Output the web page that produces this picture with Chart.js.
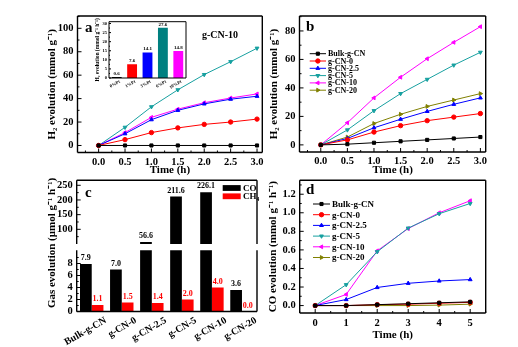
<!DOCTYPE html>
<html>
<head>
<meta charset="utf-8">
<script src="https://cdn.jsdelivr.net/npm/chart.js@4.4.0/dist/chart.umd.min.js"></script>
<style>
  html, body { margin: 0; padding: 0; background: #fff; }
  #wrap { position: relative; width: 518px; height: 347px; overflow: hidden; }
  canvas { position: absolute; }
</style>
</head>
<body>
<div id="wrap">
  <canvas id="ca"></canvas>
  <canvas id="cb"></canvas>
  <canvas id="cinset"></canvas>
  <canvas id="ccup"></canvas>
  <canvas id="cclow"></canvas>
  <canvas id="cd"></canvas>
</div>
<script>
// ---- data ----
const timeH2 = [0, 0.5, 1, 1.5, 2, 2.5, 3];
const timeCO = [0, 1, 2, 3, 4, 5];
const sampleNames = ['Bulk-g-CN', 'g-CN-0', 'g-CN-2.5', 'g-CN-5', 'g-CN-10', 'g-CN-20'];

// (a) Pt loading on g-CN-10
const ptLabels = ['0%Pt', '1%Pt', '3%Pt', '6%Pt', '10%Pt'];
const ptRates = [0.6, 7.6, 14.1, 27.6, 14.8];
const ptH2_0 = [0, 0, 0, 0, 0, 0, 0];
const ptH2_1 = [0, 5, 11, 15, 18, 20, 22.5];
const ptH2_3 = [0, 10, 22, 30, 35.5, 39.5, 42];
const ptH2_6 = [0, 15.5, 33, 47.5, 60.5, 71.5, 83];
const ptH2_10 = [0, 11, 24, 31, 36.5, 40.5, 44];

// (b) H2 evolution
const h2Bulk = [0, 0.5, 1.5, 2.5, 3.5, 4.5, 5.5];
const h2CN0 = [0, 3.5, 9, 13.5, 17, 19.5, 22];
const h2CN25 = [0, 4.5, 12, 18, 23.5, 28.5, 33];
const h2CN5 = [0, 10.5, 24, 36, 46, 56, 65];
const h2CN10 = [0, 15.5, 33, 47.5, 60.5, 72, 83];
const h2CN20 = [0, 5.5, 15, 21.5, 27, 31.5, 36];

// (c) gas evolution rates
const gasCO = [7.9, 7.0, 56.6, 211.6, 226.1, 3.6];
const gasCH4 = [1.1, 1.5, 1.4, 2.0, 4.0, 0.0];

// (d) CO evolution
const coBulk = [0, 0, 0.01, 0.02, 0.03, 0.04];
const coCN0 = [0, 0, 0.01, 0.015, 0.025, 0.035];
const coCN25 = [0, 0.065, 0.195, 0.24, 0.265, 0.28];
const coCN5 = [0, 0.225, 0.58, 0.835, 0.99, 1.1];
const coCN10 = [0, 0.12, 0.59, 0.83, 1.0, 1.13];
const coCN20 = [0, 0, 0, 0, 0.005, 0.015];

// tick values
const ticksTime3 = [0, 0.5, 1, 1.5, 2, 2.5, 3];
const ticksTime5 = [0, 1, 2, 3, 4, 5];
const ticksA = [0, 20, 40, 60, 80, 100];
const ticksB = [0, 20, 40, 60, 80];
const ticksCup = [100, 150, 200, 250];
const ticksClow = [0, 2, 4, 6, 8];
const ticksInset = [0, 5, 10, 15, 20, 25, 30];
const ticksD = [0, 0.2, 0.4, 0.6, 0.8, 1.0, 1.2];

// ---- styling ----
const F = "'Liberation Serif', 'Times New Roman', serif";
Chart.defaults.font.family = F;
Chart.defaults.font.weight = 'bold';
Chart.defaults.color = '#000';
Chart.defaults.animation = false;
Chart.defaults.responsive = false;
Chart.defaults.maintainAspectRatio = false;
Chart.defaults.plugins.legend.display = false;
Chart.defaults.plugins.tooltip.enabled = false;

const styles = [
  {c: '#000000', ps: 'rect', rot: 0},
  {c: '#ff0000', ps: 'circle', rot: 0},
  {c: '#0000ff', ps: 'triangle', rot: 0},
  {c: '#17a0a0', ps: 'triangle', rot: 180},
  {c: '#ff00ff', ps: 'triangle', rot: -90},
  {c: '#808000', ps: 'triangle', rot: 90}
];

function place(id, left, top, w, h) {
  const c = document.getElementById(id);
  c.width = w; c.height = h;
  c.style.left = left + 'px'; c.style.top = top + 'px';
  c.style.width = w + 'px'; c.style.height = h + 'px';
  return c;
}

function lineSet(label, xs, ys, st) {
  return {
    label: label,
    data: xs.map((x, i) => ({x: x, y: ys[i]})),
    borderColor: st.c, backgroundColor: st.c,
    borderWidth: 1, pointStyle: st.ps, pointRotation: st.rot,
    pointRadius: 2.2, pointBorderWidth: 1, tension: 0
  };
}

function linAxis(horiz, min, max, ticks, size, fmt, tickFont, tickPad, title) {
  return {
    type: 'linear', min: min, max: max,
    grid: {display: false, drawTicks: false},
    border: {display: false},
    afterBuildTicks: s => { s.ticks = ticks.map(v => ({value: v})); },
    afterFit: s => { if (horiz) s.height = size; else s.width = size; },
    ticks: {autoSkip: false, maxRotation: 0, padding: tickPad, font: {size: tickFont}, callback: fmt},
    title: title ? {
      display: true, text: title.text, font: {size: title.size || 11, weight: 'bold'},
      padding: horiz ? {top: 0, bottom: title.pad} : {top: title.pad, bottom: 0}
    } : {display: false}
  };
}

// box + inward ticks
const frame = {
  id: 'frame',
  afterDraw(chart, args, o) {
    const {ctx, chartArea: a, scales} = chart;
    const sides = o.sides || 'ltrb';
    const major = o.major || 4, minor = o.minor || 2;
    ctx.save();
    ctx.strokeStyle = '#000';
    ctx.lineWidth = o.lw || 1.4;
    ctx.beginPath();
    if (sides.includes('l')) { ctx.moveTo(a.left, a.top); ctx.lineTo(a.left, a.bottom); }
    if (sides.includes('r')) { ctx.moveTo(a.right, a.top); ctx.lineTo(a.right, a.bottom); }
    if (sides.includes('t')) { ctx.moveTo(a.left, a.top); ctx.lineTo(a.right, a.top); }
    if (sides.includes('b')) { ctx.moveTo(a.left, a.bottom); ctx.lineTo(a.right, a.bottom); }
    ctx.stroke();
    ctx.lineWidth = 1;
    ['x', 'y'].forEach(id => {
      const s = scales[id];
      if (!s || s.type !== 'linear' || !s.options.display) return;
      const vals = s.ticks.map(t => t.value);
      const mids = [];
      for (let i = 0; i < vals.length - 1; i++) mids.push((vals[i] + vals[i + 1]) / 2);
      if (vals.length > 1) {
        const st = vals[1] - vals[0];
        mids.push(vals[0] - st / 2, vals[vals.length - 1] + st / 2);
      }
      const mark = (v, len) => {
        if (v < s.min || v > s.max) return;
        const p = s.getPixelForValue(v);
        if (id === 'x') { ctx.moveTo(p, a.bottom); ctx.lineTo(p, a.bottom - len); }
        else { ctx.moveTo(a.left, p); ctx.lineTo(a.left + len, p); }
      };
      ctx.beginPath();
      vals.forEach(v => mark(v, major));
      mids.forEach(v => mark(v, minor));
      ctx.stroke();
    });
    ctx.restore();
  }
};

// free text (panel letters, rotated titles)
const notes = {
  id: 'notes',
  afterDraw(chart, args, o) {
    if (!o.items) return;
    const ctx = chart.ctx;
    o.items.forEach(n => {
      ctx.save();
      ctx.font = n.font;
      ctx.fillStyle = n.color || '#000';
      ctx.textAlign = n.align || 'left';
      ctx.textBaseline = 'middle';
      ctx.translate(n.x, n.y);
      if (n.rot) ctx.rotate(n.rot);
      ctx.fillText(n.text, 0, 0);
      ctx.restore();
    });
  }
};

// legend inside the plot
const inLegend = {
  id: 'inLegend',
  afterDraw(chart, args, o) {
    if (o.x0 === undefined) return;
    const ctx = chart.ctx;
    ctx.save();
    ctx.font = o.font;
    ctx.textBaseline = 'middle';
    chart.data.datasets.forEach((ds, i) => {
      const y = o.y0 + i * o.dy;
      ctx.fillStyle = ds.backgroundColor;
      ctx.strokeStyle = ds.borderColor || ds.backgroundColor;
      if (o.box) {
        ctx.fillRect(o.x0, y - o.bh / 2, o.x1 - o.x0, o.bh);
      } else {
        ctx.lineWidth = 1;
        ctx.beginPath(); ctx.moveTo(o.x0, y); ctx.lineTo(o.x1, y); ctx.stroke();
        Chart.helpers.drawPoint(ctx, {pointStyle: ds.pointStyle, rotation: ds.pointRotation, radius: 2.2, borderWidth: 1}, (o.x0 + o.x1) / 2, y);
      }
      ctx.fillStyle = '#000';
      ctx.fillText(ds.label, o.tx, y + 0.5);
    });
    ctx.restore();
  }
};

// numbers above bars
const barValues = {
  id: 'barValues',
  afterDatasetsDraw(chart, args, o) {
    if (!o.font) return;
    const ctx = chart.ctx;
    ctx.save();
    ctx.font = o.font;
    ctx.textAlign = 'center';
    ctx.textBaseline = 'bottom';
    chart.data.datasets.forEach((ds, di) => {
      const meta = chart.getDatasetMeta(di);
      meta.data.forEach((el, i) => {
        const v = ds.data[i];
        if (v < o.min || v > o.max) return;
        ctx.fillStyle = ds.valueColor || '#000';
        ctx.fillText(v.toFixed(1), el.x, el.y - o.gap);
      });
    });
    ctx.restore();
  }
};

const fmt1 = v => v.toFixed(1);
const fmt0 = v => String(v);

// ---- (a) ----
new Chart(place('ca', 0, 0, 268, 180), {
  type: 'line',
  data: {datasets: [
    lineSet('0%Pt', timeH2, ptH2_0, styles[0]),
    lineSet('1%Pt', timeH2, ptH2_1, styles[1]),
    lineSet('3%Pt', timeH2, ptH2_3, styles[2]),
    lineSet('10%Pt', timeH2, ptH2_10, styles[4]),
    lineSet('6%Pt', timeH2, ptH2_6, styles[3])
  ]},
  options: {
    layout: {padding: {left: 0, top: 16, right: 5.7, bottom: 0}},
    scales: {
      x: linAxis(true, -0.4, 3.1, ticksTime3, 27.5, fmt1, 10.5, 3, {text: 'Time (h)', pad: 3.4}),
      y: linAxis(false, -6, 110.5, ticksA, 77.5, fmt0, 10.5, 4, {text: 'H₂ evolution (mmol g⁻¹)', pad: 45.4})
    },
    plugins: {
      notes: {items: [
        {text: 'a', x: 85, y: 28, font: 'bold 15px ' + F},
        {text: 'g-CN-10', x: 202, y: 35, font: 'bold 10px ' + F}
      ]}
    }
  },
  plugins: [frame, notes]
});

// ---- (a) inset ----
new Chart(place('cinset', 86, 17, 104, 76), {
  type: 'bar',
  data: {
    labels: ptLabels,
    datasets: [{
      label: 'H2', data: ptRates,
      backgroundColor: [styles[0].c, styles[1].c, styles[2].c, '#008080', styles[4].c],
      barPercentage: 0.64, categoryPercentage: 1, clip: 0
    }]
  },
  options: {
    layout: {padding: {left: 0, top: 4, right: 4, bottom: 0}},
    scales: {
      x: {
        type: 'category', grid: {display: false, drawTicks: false}, border: {display: false},
        afterFit: s => { s.height = 15; },
        ticks: {font: {size: 4.5}, minRotation: 30, maxRotation: 30, padding: 1, labelOffset: 3, autoSkip: false}
      },
      y: linAxis(false, 0, 31, ticksInset, 23, fmt0, 4.5, 2, {text: 'H₂ evolution (mmol g⁻¹ h⁻¹)', pad: 8, size: 5.5})
    },
    plugins: {
      frame: {lw: 1, major: 2, minor: 1},
      barValues: {font: 'bold 5px ' + F, min: -1, max: 100, gap: 1}
    }
  },
  plugins: [frame, barValues]
});

// ---- (b) ----
new Chart(place('cb', 258, 0, 260, 180), {
  type: 'line',
  data: {datasets: [
    lineSet(sampleNames[0], timeH2, h2Bulk, styles[0]),
    lineSet(sampleNames[1], timeH2, h2CN0, styles[1]),
    lineSet(sampleNames[2], timeH2, h2CN25, styles[2]),
    lineSet(sampleNames[3], timeH2, h2CN5, styles[3]),
    lineSet(sampleNames[4], timeH2, h2CN10, styles[4]),
    lineSet(sampleNames[5], timeH2, h2CN20, styles[5])
  ]},
  options: {
    layout: {padding: {left: 0, top: 16, right: 32.3, bottom: 0}},
    scales: {
      x: linAxis(true, -0.4, 3.1, ticksTime3, 28, fmt1, 10.5, 3, {text: 'Time (h)', pad: 3.4}),
      y: linAxis(false, -5, 90.5, ticksB, 41.5, fmt0, 10.5, 4, {text: 'H₂ evolution (mmol g⁻¹)', pad: 9.9})
    },
    plugins: {
      inLegend: {x0: 51.7, x1: 68, tx: 70, y0: 53.7, dy: 7.3, font: 'bold 8px ' + F},
      notes: {items: [{text: 'b', x: 48, y: 27, font: 'bold 15px ' + F}]}
    }
  },
  plugins: [frame, inLegend, notes]
});

// ---- (c) upper part (broken axis) ----
const gasSets = () => [
  {label: 'CO', data: gasCO, backgroundColor: '#000000', valueColor: '#000000',
   categoryPercentage: 0.78, barPercentage: 1, clip: 0},
  {label: 'CH₄', data: gasCH4, backgroundColor: '#ff0000', valueColor: '#ff0000',
   categoryPercentage: 0.78, barPercentage: 1, clip: 0}
];

new Chart(place('ccup', 0, 170, 275, 177), {
  type: 'bar',
  data: {labels: sampleNames, datasets: gasSets()},
  options: {
    layout: {padding: {left: 0, top: 10, right: 18, bottom: 103}},
    scales: {
      x: {type: 'category', display: false},
      y: linAxis(false, 50, 267, ticksCup, 76.7, fmt0, 10.5, 4, null)
    },
    plugins: {
      frame: {sides: 'ltr'},
      barValues: {font: 'bold 8px ' + F, min: 50, max: 1000, gap: 2},
      inLegend: {box: true, x0: 222.7, x1: 240.7, tx: 243, y0: 18, dy: 8.3, bh: 5.8, font: 'bold 9px ' + F},
      notes: {items: [
        {text: 'c', x: 85, y: 23, font: 'bold 15px ' + F},
        {text: 'Gas evolution (μmol g⁻¹ h⁻¹)', x: 51.7, y: 73, rot: -Math.PI / 2, align: 'center', font: 'bold 11px ' + F}
      ]}
    }
  },
  plugins: [frame, barValues, inLegend, notes]
});

// ---- (c) lower part ----
new Chart(place('cclow', 0, 240, 275, 107), {
  type: 'bar',
  data: {labels: sampleNames, datasets: gasSets()},
  options: {
    layout: {padding: {left: 0, top: 6, right: 18, bottom: 0}},
    scales: {
      x: {
        type: 'category', grid: {display: false, drawTicks: false}, border: {display: false},
        afterFit: s => { s.height = 35.5; },
        ticks: {font: {size: 10}, minRotation: 30, maxRotation: 30, padding: 3, labelOffset: 14, autoSkip: false}
      },
      y: linAxis(false, 0, 10.2, ticksClow, 76.7, fmt0, 10.5, 4, null)
    },
    plugins: {
      frame: {sides: 'lrb'},
      barValues: {font: 'bold 8px ' + F, min: -1, max: 10, gap: 2}
    }
  },
  plugins: [frame, barValues]
});

// ---- (d) ----
new Chart(place('cd', 258, 170, 260, 177), {
  type: 'line',
  data: {datasets: [
    lineSet(sampleNames[0], timeCO, coBulk, styles[0]),
    lineSet(sampleNames[1], timeCO, coCN0, styles[1]),
    lineSet(sampleNames[2], timeCO, coCN25, styles[2]),
    lineSet(sampleNames[3], timeCO, coCN5, styles[3]),
    lineSet(sampleNames[4], timeCO, coCN10, styles[4]),
    lineSet(sampleNames[5], timeCO, coCN20, styles[5])
  ]},
  options: {
    layout: {padding: {left: 0, top: 6, right: 32.3, bottom: 0}},
    scales: {
      x: linAxis(true, -0.5, 5.5, ticksTime5, 34, fmt0, 10.5, 4, {text: 'Time (h)', pad: 5.4}),
      y: linAxis(false, -0.08, 1.35, ticksD, 41.7, fmt1, 10.5, 4, {text: 'CO evolution (mmol g⁻¹ h⁻¹)', pad: 8.4})
    },
    plugins: {
      inLegend: {x0: 55, x1: 72, tx: 74, y0: 34, dy: 10.7, font: 'bold 9px ' + F},
      notes: {items: [{text: 'd', x: 48, y: 20, font: 'bold 15px ' + F}]}
    }
  },
  plugins: [frame, inLegend, notes]
});
</script>
</body>
</html>
